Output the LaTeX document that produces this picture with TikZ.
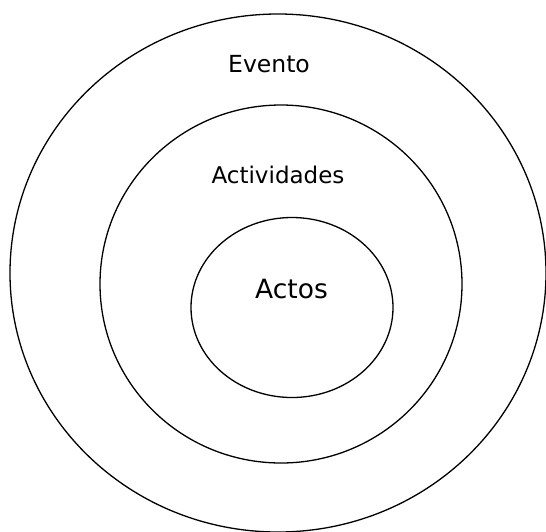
\documentclass[tikz,border=0pt]{standalone}
\usepackage{fontspec}
\setmainfont{DejaVu Sans}
\begin{document}
\begin{tikzpicture}[x=1pt,y=-1pt,
  ring/.style={draw=black,line width=1.3pt},
  lbl/.style={anchor=base,inner sep=0pt,text=black}]
\useasboundingbox (0,0) rectangle (546,531);
\draw[ring] (278,273) ellipse [x radius=268, y radius=259];
\draw[ring] (281,284) ellipse [x radius=181, y radius=179];
\draw[ring] (292,307.5) ellipse [x radius=101, y radius=90];
\node[lbl,font=\fontsize{23.5}{28}\selectfont] (evento) at (269,72) {Evento};
\node[lbl,font=\fontsize{23}{28}\selectfont] (act) at (278,183) {Actividades};
\node[lbl,font=\fontsize{26.5}{32}\selectfont] (actos) at (291.5,298) {Actos};
\end{tikzpicture}
\end{document}
